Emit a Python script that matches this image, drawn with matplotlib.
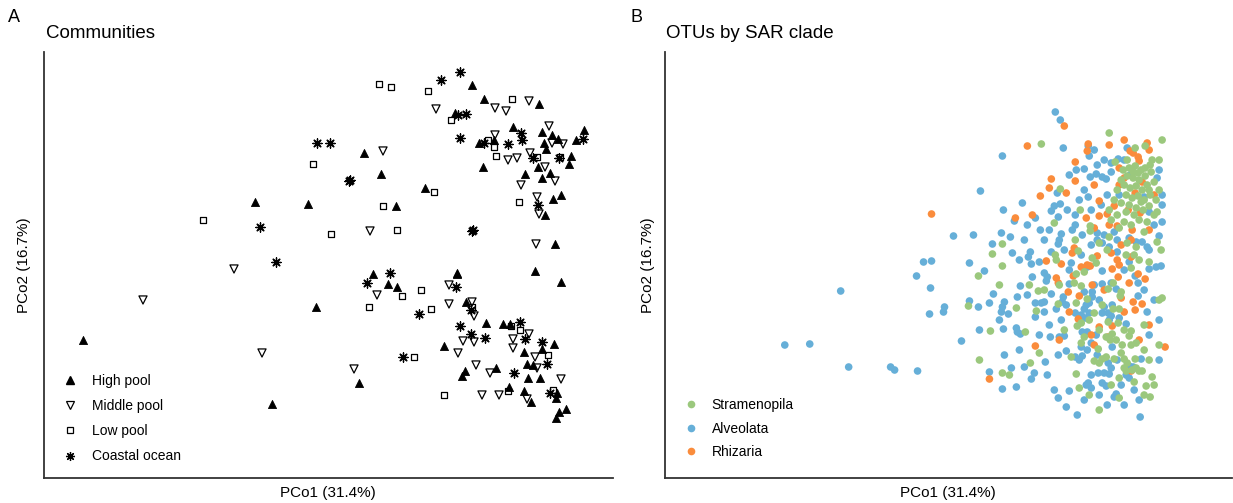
import matplotlib.pyplot as plt
import numpy as np
from matplotlib.lines import Line2D

plt.rcParams["font.family"] = ["Liberation Sans", "DejaVu Sans"]

# ---- panel A: community scores (PCo1, PCo2) ----
high_pool = [
    (0.142, 0.180), (0.154, 0.166), (0.209, 0.161), (0.125, 0.152), (0.183, 0.138),
    (0.212, 0.133), (0.254, 0.135), (0.149, 0.122), (0.164, 0.125), (0.222, 0.130),
    (0.214, 0.122), (0.216, 0.116), (0.228, 0.126), (0.246, 0.125), (0.241, 0.109),
    (0.239, 0.101), (0.153, 0.098), (0.208, 0.098), (0.195, 0.091), (0.212, 0.087),
    (0.220, 0.092), (0.215, 0.050), (0.223, 0.066), (0.231, 0.070), (0.225, 0.021),
    (0.127, -0.008), (0.205, -0.006), (0.034, 0.112), (0.051, 0.091), (0.095, 0.077),
    (-0.075, 0.063), (-0.022, 0.061), (0.066, 0.059), (-0.247, -0.075), (-0.058, -0.139),
    (0.043, -0.009), (0.058, -0.019), (0.067, -0.022), (-0.014, -0.042), (0.127, -0.009),
    (0.136, -0.037), (0.231, -0.017), (0.156, -0.058), (0.114, -0.081), (0.173, -0.059),
    (0.180, -0.059), (0.224, -0.079), (0.194, -0.087), (0.212, -0.084), (0.197, -0.099),
    (0.203, -0.100), (0.166, -0.103), (0.135, -0.106), (0.132, -0.111), (0.198, -0.113),
    (0.210, -0.113), (0.029, -0.118), (0.179, -0.122), (0.194, -0.126), (0.201, -0.137),
    (0.227, -0.128), (0.226, -0.133), (0.229, -0.147), (0.236, -0.144), (0.226, -0.153),
]
middle_pool = [
    (0.106, 0.156), (0.199, 0.164), (0.165, 0.157), (0.176, 0.154), (0.219, 0.139),
    (0.165, 0.130), (0.222, 0.122), (0.233, 0.121), (0.178, 0.105), (0.187, 0.107),
    (0.200, 0.112), (0.215, 0.098), (0.225, 0.084), (0.191, 0.080), (0.207, 0.068),
    (0.209, 0.051), (0.206, 0.021), (0.053, 0.114), (0.040, 0.034), (-0.096, -0.004),
    (-0.187, -0.035), (-0.068, -0.088), (0.047, -0.030), (0.119, -0.020), (0.119, -0.039),
    (0.142, -0.037), (0.144, -0.051), (0.133, -0.076), (0.144, -0.077), (0.128, -0.088),
    (0.199, -0.069), (0.183, -0.074), (0.183, -0.083), (0.205, -0.092), (0.207, -0.103),
    (0.146, -0.100), (0.160, -0.108), (0.231, -0.114), (0.024, -0.104), (0.152, -0.130),
    (0.169, -0.130), (0.197, -0.134),
]
low_pool = [
    (0.049, 0.181), (0.061, 0.178), (0.098, 0.174), (0.182, 0.166), (0.121, 0.145),
    (0.158, 0.125), (0.164, 0.118), (0.166, 0.109), (0.207, 0.108), (0.230, 0.108),
    (-0.017, 0.101), (0.104, 0.073), (0.053, 0.059), (-0.127, 0.045), (0.001, 0.031),
    (0.067, 0.035), (0.189, 0.063), (0.072, -0.031), (0.091, -0.025), (0.039, -0.042),
    (0.101, -0.044), (0.142, -0.042), (0.181, -0.061), (0.190, -0.065), (0.218, -0.090),
    (0.084, -0.092), (0.114, -0.130), (0.178, -0.126), (0.223, -0.125),
]
coastal_ocean = [
    (0.130, 0.193), (0.111, 0.185), (0.136, 0.151), (0.128, 0.150), (0.191, 0.132),
    (0.130, 0.127), (0.154, 0.122), (0.178, 0.121), (0.192, 0.125), (0.253, 0.126),
    (0.203, 0.107), (0.229, 0.107), (0.208, 0.060), (0.142, 0.034), (0.143, 0.035),
    (-0.013, 0.122), (0.000, 0.122), (0.019, 0.084), (0.020, 0.085), (-0.070, 0.038),
    (-0.054, 0.003), (0.060, -0.008), (0.037, -0.018), (0.089, -0.049), (0.126, -0.022),
    (0.141, -0.045), (0.130, -0.061), (0.141, -0.069), (0.155, -0.073), (0.190, -0.057),
    (0.195, -0.074), (0.212, -0.077), (0.217, -0.099), (0.184, -0.108), (0.073, -0.092),
    (0.220, -0.128),
]
pool_labels = ["High pool", "Middle pool", "Low pool", "Coastal ocean"]

# ---- panel B: OTU scores by SAR clade ----
alveolata = [
    (0.056, 0.153), (0.061, 0.145), (0.064, 0.117), (0.089, 0.119), (0.095, 0.115),
    (0.090, 0.109), (0.003, 0.109), (0.128, 0.117), (0.077, 0.095), (0.085, 0.096),
    (0.112, 0.102), (0.119, 0.106), (0.097, 0.091), (0.103, 0.088), (0.107, 0.086),
    (0.112, 0.093), (0.091, 0.088), (-0.019, 0.074), (0.058, 0.072), (0.089, 0.068),
    (0.023, 0.062), (0.004, 0.055), (0.055, 0.059), (0.061, 0.061), (0.052, 0.054),
    (0.015, 0.044), (0.036, 0.047), (0.076, 0.050), (0.059, 0.048), (0.028, 0.040),
    (0.041, 0.035), (-0.046, 0.029), (-0.026, 0.030), (0.002, 0.032), (0.011, 0.028),
    (0.076, 0.040), (0.073, 0.035), (0.062, 0.031), (0.060, 0.025), (0.059, 0.021),
    (-0.007, 0.021), (0.013, 0.012), (0.031, 0.013), (0.029, 0.008), (0.052, 0.013),
    (-0.030, 0.002), (-0.068, 0.004), (0.032, 0.001), (0.072, 0.002),
    (0.131, 0.090), (0.158, 0.087), (0.120, 0.070), (0.145, 0.068), (0.163, 0.060),
    (0.155, 0.040), (0.160, 0.029), (0.130, 0.027), (0.118, 0.025), (0.105, 0.030),
    (0.098, 0.025), (0.115, 0.033), (0.137, 0.023), (0.143, 0.023), (0.148, 0.018),
    (0.103, 0.022), (0.110, 0.018), (0.118, 0.013), (0.098, 0.032), (0.088, -0.002),
    (0.130, 0.003), (0.150, 0.015), (0.157, -0.002), (0.162, -0.001),
    (-0.215, -0.080), (-0.190, -0.079), (-0.151, -0.102), (-0.109, -0.102), (-0.105, -0.105),
    (-0.082, -0.106), (-0.159, -0.026), (-0.083, -0.011), (-0.076, 0.003), (-0.069, -0.023),
    (-0.070, -0.049), (-0.015, -0.006), (-0.055, -0.042), (-0.056, -0.047), (-0.030, -0.036),
    (-0.021, -0.042), (-0.010, -0.038), (-0.006, -0.029), (0.003, -0.042), (0.005, -0.037),
    (0.002, -0.047), (0.009, -0.049), (0.018, -0.032), (0.021, -0.021), (0.028, -0.030),
    (0.000, -0.055), (0.004, -0.064), (0.017, -0.063), (0.018, -0.067), (0.021, -0.069),
    (-0.038, -0.076), (0.036, -0.038), (0.036, -0.052), (0.045, -0.037), (0.042, -0.038),
    (0.045, -0.047), (0.052, -0.029), (0.057, -0.044), (0.064, -0.032), (0.063, -0.037),
    (0.067, -0.040), (0.033, -0.012), (0.045, -0.008), (0.048, -0.012), (0.047, -0.016),
    (0.070, -0.019), (0.103, -0.006), (0.112, -0.018), (0.103, -0.019), (0.095, -0.020),
    (0.117, -0.024), (0.136, -0.011), (0.139, -0.018), (0.150, -0.004), (0.085, -0.027),
    (0.093, -0.027), (0.090, -0.038), (0.093, -0.032), (0.076, -0.048), (0.082, -0.050),
    (0.086, -0.053), (0.090, -0.048), (0.087, -0.040), (0.085, -0.044), (0.103, -0.048),
    (0.109, -0.048), (0.105, -0.042), (0.113, -0.040), (0.112, -0.051), (0.110, -0.055),
    (0.127, -0.059), (0.083, -0.067), (0.088, -0.067), (0.097, -0.070), (0.051, -0.072),
    (0.060, -0.072), (0.065, -0.071), (0.092, -0.078), (0.082, -0.082), (0.088, -0.085),
    (0.113, -0.082), (0.139, -0.031), (0.148, -0.047), (0.067, -0.086), (0.059, -0.090),
    (0.076, -0.092), (0.080, -0.095), (0.083, -0.091), (0.109, -0.098), (0.112, -0.103),
    (0.130, -0.101), (0.134, -0.102), (0.142, -0.094), (0.127, -0.110), (0.130, -0.113),
    (0.141, -0.152), (0.117, -0.129), (0.115, -0.132), (0.103, -0.118), (0.107, -0.121),
    (0.099, -0.108), (0.105, -0.108), (0.110, -0.109), (0.092, -0.110), (0.087, -0.120),
    (0.092, -0.123), (0.089, -0.118), (0.070, -0.126), (0.059, -0.133), (0.067, -0.142),
    (0.046, -0.097), (0.035, -0.108), (0.025, -0.102), (0.032, -0.114), (0.012, -0.103),
    (-0.010, -0.107), (0.017, -0.122), (0.003, -0.124),
    (0.105, 0.105), (0.098, 0.100), (0.125, 0.105), (0.160, 0.095), (0.163, 0.070),
    (0.163, 0.043), (0.150, 0.053), (0.108, 0.070), (0.102, 0.060), (0.092, 0.055),
    (0.085, 0.075), (0.080, 0.065), (0.070, 0.090), (0.068, 0.055), (0.083, 0.030),
    (0.092, 0.020), (0.082, 0.010), (0.065, 0.015), (0.050, 0.035), (0.045, 0.025),
    (0.040, 0.003), (0.025, 0.025), (0.020, 0.005), (0.070, -0.005), (0.125, -0.005),
    (0.145, -0.025), (0.155, -0.035), (0.160, -0.055), (0.150, -0.070), (0.160, -0.095),
    (0.100, -0.035), (0.120, -0.053), (0.098, -0.090), (0.118, -0.095), (0.122, -0.120),
    (0.135, -0.125), (0.140, -0.135), (0.100, -0.130), (0.085, -0.135), (0.108, -0.140),
    (0.125, -0.140), (0.078, -0.150), (0.055, -0.125), (0.048, -0.110), (0.005, -0.090),
    (0.020, -0.085), (0.040, -0.070), (-0.020, -0.065), (0.062, -0.055), (0.050, -0.060),
]
stramenopila = [
    (0.110, 0.132), (0.163, 0.125), (0.042, 0.121), (0.146, 0.119), (0.136, 0.117),
    (0.151, 0.100), (0.116, 0.103), (0.124, 0.095), (0.130, 0.097), (0.136, 0.099),
    (0.142, 0.095), (0.128, 0.089), (0.134, 0.087), (0.140, 0.085), (0.146, 0.089),
    (0.125, 0.080), (0.131, 0.077), (0.137, 0.079), (0.143, 0.075), (0.148, 0.080),
    (0.127, 0.070), (0.133, 0.067), (0.139, 0.069), (0.145, 0.065), (0.151, 0.070),
    (0.122, 0.062), (0.130, 0.060), (0.137, 0.057), (0.144, 0.055), (0.150, 0.059),
    (0.157, 0.065), (0.160, 0.075), (0.155, 0.083), (0.152, 0.093), (0.118, 0.075),
    (0.115, 0.065), (0.110, 0.055), (0.112, 0.045), (0.118, 0.050), (0.125, 0.043),
    (0.132, 0.040), (0.140, 0.045), (0.148, 0.043), (0.155, 0.050), (0.160, 0.105),
    (0.061, 0.076), (0.081, 0.055), (0.055, 0.042), (0.091, 0.039), (0.091, 0.034),
    (0.076, 0.025), (0.003, 0.021), (-0.007, 0.011), (0.056, 0.010), (0.057, 0.005),
    (0.079, 0.014), (0.003, -0.001), (0.110, 0.028), (0.128, 0.022), (0.137, 0.018),
    (0.158, 0.023), (0.100, 0.022), (0.093, 0.007), (0.097, 0.002), (0.127, 0.010),
    (0.135, 0.010), (-0.021, -0.011), (-0.031, -0.041), (0.017, -0.043), (0.039, -0.026),
    (-0.009, -0.066), (0.026, -0.067), (0.037, -0.046), (0.059, -0.039), (0.060, -0.020),
    (0.075, -0.018), (0.077, -0.009), (0.085, -0.007), (0.082, -0.021), (0.114, -0.018),
    (0.109, -0.024), (0.122, -0.027), (0.121, -0.031), (0.132, -0.003), (0.088, -0.034),
    (0.077, -0.038), (0.095, -0.048), (0.078, -0.061), (0.082, -0.058), (0.103, -0.040),
    (0.114, -0.044), (0.120, -0.044), (0.109, -0.057), (0.119, -0.058), (0.125, -0.065),
    (0.132, -0.066), (0.085, -0.072), (0.113, -0.069), (0.107, -0.072), (0.111, -0.075),
    (0.082, -0.078), (0.040, -0.088), (0.099, -0.084), (0.117, -0.075), (0.123, -0.080),
    (0.132, -0.080), (0.137, -0.078), (0.130, -0.071), (0.163, -0.033), (0.072, -0.092),
    (0.095, -0.096), (0.100, -0.098), (0.103, -0.094), (0.107, -0.092), (0.115, -0.094),
    (0.122, -0.088), (0.125, -0.094), (0.128, -0.098), (0.125, -0.103), (0.127, -0.106),
    (0.133, -0.105), (0.137, -0.103), (0.140, -0.106), (0.143, -0.106), (0.136, -0.094),
    (0.153, -0.112), (0.147, -0.121), (0.151, -0.132), (0.077, -0.109), (0.080, -0.123),
    (0.031, -0.098), (0.003, -0.108),
    (0.128, 0.105), (0.134, 0.093), (0.146, 0.097), (0.122, 0.085), (0.139, 0.092),
    (0.150, 0.075), (0.127, 0.053), (0.135, 0.050), (0.142, 0.063), (0.158, 0.053),
    (0.153, 0.105), (0.120, 0.037), (0.145, 0.033), (0.162, 0.015), (0.140, 0.005),
    (0.108, 0.015), (0.150, 0.003), (0.090, -0.055), (0.100, -0.065), (0.145, -0.085),
    (0.160, -0.080), (0.150, -0.095), (0.120, -0.113), (0.135, -0.117), (0.112, -0.120),
    (0.090, -0.130), (0.100, -0.145), (0.145, -0.130), (0.155, -0.120), (0.120, -0.133),
    (0.145, -0.060), (0.160, -0.035), (0.065, -0.065), (0.045, -0.025), (0.000, -0.020),
    (0.030, -0.020), (0.010, -0.110), (-0.020, -0.095),
]
rhizaria = [
    (-0.068, 0.051), (0.065, 0.139), (0.028, 0.119), (0.089, 0.121), (0.088, 0.114),
    (0.148, 0.122), (0.131, 0.114), (0.134, 0.112), (0.139, 0.108), (0.140, 0.104),
    (0.076, 0.103), (0.076, 0.084), (0.052, 0.086), (0.050, 0.077), (0.067, 0.072),
    (0.041, 0.069), (0.100, 0.064), (0.016, 0.047), (0.033, 0.050), (0.087, 0.047),
    (0.100, 0.049), (0.073, 0.012), (0.075, 0.017), (0.047, 0.004), (0.062, 0.001),
    (0.120, 0.097), (0.125, 0.087), (0.136, 0.072), (0.143, 0.083), (0.129, 0.055),
    (0.141, 0.052), (0.115, 0.059), (0.108, 0.051), (0.118, 0.039), (0.133, 0.035),
    (0.095, 0.037), (0.150, 0.035), (0.132, 0.025), (0.122, 0.020), (0.112, 0.012),
    (0.098, 0.009), (0.132, 0.008), (0.118, 0.005), (0.120, 0.000), (0.057, -0.013),
    (0.059, -0.018), (0.069, -0.027), (0.074, -0.011), (0.082, -0.002), (0.091, -0.001),
    (0.093, -0.020), (0.113, -0.004), (0.119, -0.012), (0.122, -0.033), (0.130, -0.018),
    (0.139, -0.009), (0.146, -0.014), (0.080, -0.031), (0.070, -0.047), (0.079, -0.054),
    (0.100, -0.062), (0.092, -0.070), (0.113, -0.061), (0.109, -0.072), (0.036, -0.081),
    (0.134, -0.037), (0.136, -0.045), (0.143, -0.039), (0.166, -0.082), (0.132, -0.106),
    (-0.010, -0.114),
    (0.110, 0.120), (0.125, 0.125), (0.150, 0.115), (0.095, 0.080), (0.120, 0.080),
    (0.155, 0.070), (0.110, 0.040), (0.088, 0.000), (0.105, -0.025), (0.125, -0.047),
    (0.150, -0.060), (0.140, -0.075), (0.095, -0.080), (0.060, -0.075),
]
clade_labels = ["Stramenopila", "Alveolata", "Rhizaria"]
clade_colors = ["#9bc87d", "#66afd8", "#fa8c3c"]

W, H = 1233, 503
fig = plt.figure(figsize=(W / 100, H / 100), dpi=100)


def px_axes(x0, y0, x1, y1):
    return fig.add_axes([x0 / W, 1 - y1 / H, (x1 - x0) / W, (y1 - y0) / H])


def style(ax):
    for side in ("top", "right"):
        ax.spines[side].set_visible(False)
    for side in ("left", "bottom"):
        ax.spines[side].set_color("#333333")
        ax.spines[side].set_linewidth(1.3)
    ax.set_xticks([])
    ax.set_yticks([])


def ftext(x, y, s, **kw):
    fig.text(x / W, 1 - y / H, s, **kw)


# panel A
axA = px_axes(44, 52, 613, 478)
style(axA)
asterisk = (8, 2, 0)
markers = [
    dict(marker="^", s=34, facecolors="black", edgecolors="black", linewidths=0.6),
    dict(marker="v", s=34, facecolors="none", edgecolors="black", linewidths=0.9),
    dict(marker="s", s=24, facecolors="none", edgecolors="black", linewidths=0.9),
    dict(marker=asterisk, s=44, color="black", linewidths=0.95),
]
for pts, mk in zip([high_pool, middle_pool, low_pool, coastal_ocean], markers):
    arr = np.array(pts)
    axA.scatter(arr[:, 0], arr[:, 1], **mk)
axA.set_xlim(-0.286, 0.283)
axA.set_ylim(-0.213, 0.213)

handlesA = [
    Line2D([], [], ls="none", marker="^", ms=5.5, mfc="black", mec="black"),
    Line2D([], [], ls="none", marker="v", ms=5.5, mfc="none", mec="black", mew=0.9),
    Line2D([], [], ls="none", marker="s", ms=4.8, mfc="none", mec="black", mew=0.9),
    Line2D([], [], ls="none", marker=asterisk, ms=6.5, color="black", mew=0.9),
]
axA.legend(handlesA, pool_labels, loc="lower left", bbox_to_anchor=(0.008, 0.0),
           frameon=False, fontsize=10, handlelength=1.0, handletextpad=1.1,
           labelspacing=0.8, borderaxespad=0.65)

# panel B
axB = px_axes(665, 52, 1232, 478)
style(axB)
for pts, col in [(alveolata, clade_colors[1]), (rhizaria, clade_colors[2]),
                 (stramenopila, clade_colors[0])]:
    arr = np.array(pts)
    axB.scatter(arr[:, 0], arr[:, 1], s=30, color=col, edgecolors="none")
axB.set_xlim(-0.335, 0.233)
axB.set_ylim(-0.213, 0.213)

handlesB = [Line2D([], [], ls="none", marker="o", ms=5.5, mfc=c, mec="none")
            for c in clade_colors]
axB.legend(handlesB, clade_labels, loc="lower left", bbox_to_anchor=(0.0, 0.0),
           frameon=False, fontsize=10, handlelength=1.0, handletextpad=1.0,
           labelspacing=0.7, borderaxespad=0.95)

# labels
ftext(8, 18, "A", fontsize=13, va="center", ha="left")
ftext(630, 18, "B", fontsize=13, va="center", ha="left")
ftext(46, 34, "Communities", fontsize=13.5, va="center", ha="left")
ftext(666, 34, "OTUs by SAR clade", fontsize=13.5, va="center", ha="left")
ftext(328, 493, "PCo1 (31.4%)", fontsize=11, va="center", ha="center")
ftext(948, 493, "PCo1 (31.4%)", fontsize=11, va="center", ha="center")
ftext(24, 265, "PCo2 (16.7%)", fontsize=11, va="center", ha="center", rotation=90)
ftext(648, 265, "PCo2 (16.7%)", fontsize=11, va="center", ha="center", rotation=90)

fig.savefig("out.png", dpi=100)
